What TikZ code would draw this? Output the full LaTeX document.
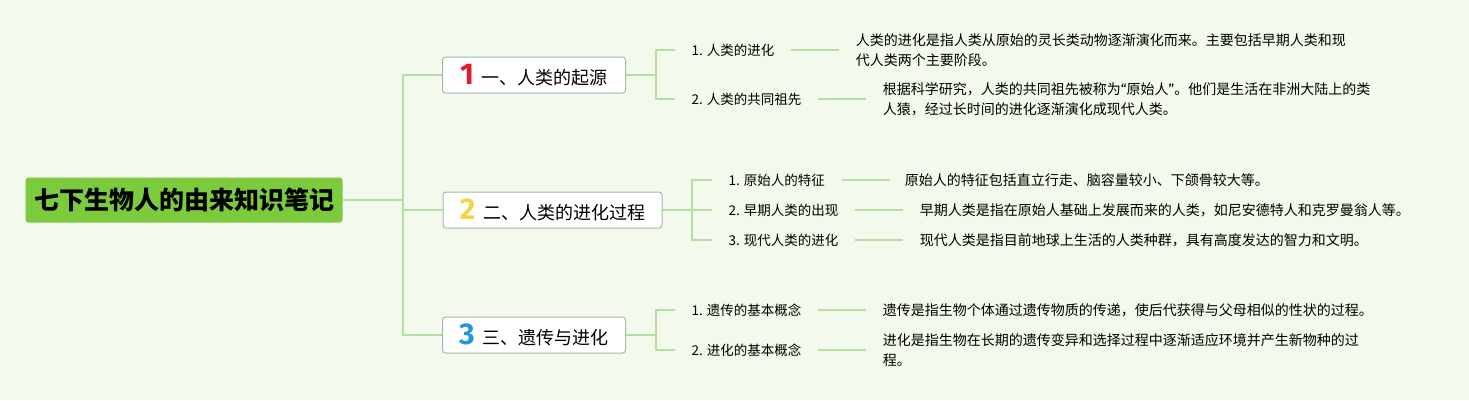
\documentclass[tikz,border=0pt]{standalone}
\usepackage{fontspec}
\setmainfont{Noto Sans CJK SC}
\newfontfamily\digitfont{Fira Sans}
\usetikzlibrary{positioning}
\definecolor{bg}{HTML}{F3F9EC}
\definecolor{rootgreen}{HTML}{7CCB3C}
\definecolor{boxborder}{HTML}{9FBBAA}
\definecolor{linegreen}{HTML}{B5DFA0}
\definecolor{numred}{HTML}{E01B2E}
\definecolor{numyellow}{HTML}{F5D34A}
\definecolor{numblue}{HTML}{2396D8}
\newcommand{\numdigit}[2]{{\digitfont\fontsize{30}{30}\selectfont\bfseries\textcolor{#1}{#2}}\hspace{8pt}}
\begin{document}
\begin{tikzpicture}[x=1pt,y=-1pt,
  rootbox/.style={fill=rootgreen, rounded corners=3pt, minimum width=317pt, minimum height=45pt, inner sep=0pt, font=\fontsize{25}{30}\selectfont\bfseries},
  topic/.style={draw=boxborder, line width=1pt, fill=white, rounded corners=3pt, minimum height=36pt, inner sep=0pt, font=\fontsize{18}{22}\selectfont},
  sub/.style={inner xsep=16.5pt, inner ysep=2pt, font=\fontsize{13.5}{18}\selectfont},
  desc/.style={inner xsep=16.5pt, inner ysep=2pt, align=left, font=\fontsize{14}{20}\selectfont},
  conn/.style={draw=linegreen, line width=1.8pt}]
\fill[bg] (0,0) rectangle (1469,400);
\useasboundingbox (0,0) rectangle (1469,400);

% root
\node[rootbox] (root) at (184,200) {七下生物人的由来知识笔记};

% topics
\node[topic, minimum width=183pt] (b1) at (534,75) {\numdigit{numred}{1}一、人类的起源};
\node[topic, minimum width=219pt] (b2) at (552.5,210) {\numdigit{numyellow}{2}二、人类的进化过程};
\node[topic, minimum width=183pt] (b3) at (534,335) {\numdigit{numblue}{3}三、遗传与进化};

\coordinate (t) at (403,200);
\draw[conn] (root.east) -- (t);
\draw[conn] (b1.west) -| (t) |- (b3.west);
\draw[conn] (b2.west) -- (b2.west -| t);

% branch 1
\node[sub, anchor=west] (l11) at (675,50) {1. 人类的进化};
\node[sub, anchor=west] (l12) at (675,99) {2. 人类的共同祖先};
\coordinate (j1) at (656,75);
\draw[conn] (b1.east) -- (j1);
\draw[conn] (l11.west) -| (j1) |- (l12.west);
\node[desc, right=48pt of l11] (d11) {人类的进化是指人类从原始的灵长类动物逐渐演化而来。主要包括早期人类和现\\代人类两个主要阶段。};
\node[desc, right=48pt of l12] (d12) {根据科学研究，人类的共同祖先被称为{\digitfont “}原始人{\digitfont ”}。他们是生活在非洲大陆上的类\\人猿，经过长时间的进化逐渐演化成现代人类。};
\draw[conn] (l11) -- (d11);
\draw[conn] (l12) -- (d12);

% branch 2
\node[sub, anchor=west] (l21) at (712,180) {1. 原始人的特征};
\node[sub, anchor=west] (l22) at (712,210) {2. 早期人类的出现};
\node[sub, anchor=west] (l23) at (712,240) {3. 现代人类的进化};
\coordinate (j2) at (692,210);
\draw[conn] (b2.east) -- (j2);
\draw[conn] (l21.west) -| (j2) |- (l23.west);
\draw[conn] (l22.west) -- (j2);
\node[desc, right=48pt of l21, inner xsep=15pt] (d21) {原始人的特征包括直立行走、脑容量较小、下颌骨较大等。};
\node[desc, right=48pt of l22] (d22) {早期人类是指在原始人基础上发展而来的人类，如尼安德特人和克罗曼翁人等。};
\node[desc, right=48pt of l23] (d23) {现代人类是指目前地球上生活的人类种群，具有高度发达的智力和文明。};
\draw[conn] (l21) -- (d21);
\draw[conn] (l22) -- (d22);
\draw[conn] (l23) -- (d23);

% branch 3
\node[sub, anchor=west] (l31) at (675,310) {1. 遗传的基本概念};
\node[sub, anchor=west] (l32) at (675,350) {2. 进化的基本概念};
\coordinate (j3) at (656,335);
\draw[conn] (b3.east) -- (j3);
\draw[conn] (l31.west) -| (j3) |- (l32.west);
\node[desc, right=48pt of l31] (d31) {遗传是指生物个体通过遗传物质的传递，使后代获得与父母相似的性状的过程。};
\node[desc, right=48pt of l32] (d32) {进化是指生物在长期的遗传变异和选择过程中逐渐适应环境并产生新物种的过\\程。};
\draw[conn] (l31) -- (d31);
\draw[conn] (l32) -- (d32);
\end{tikzpicture}
\end{document}
